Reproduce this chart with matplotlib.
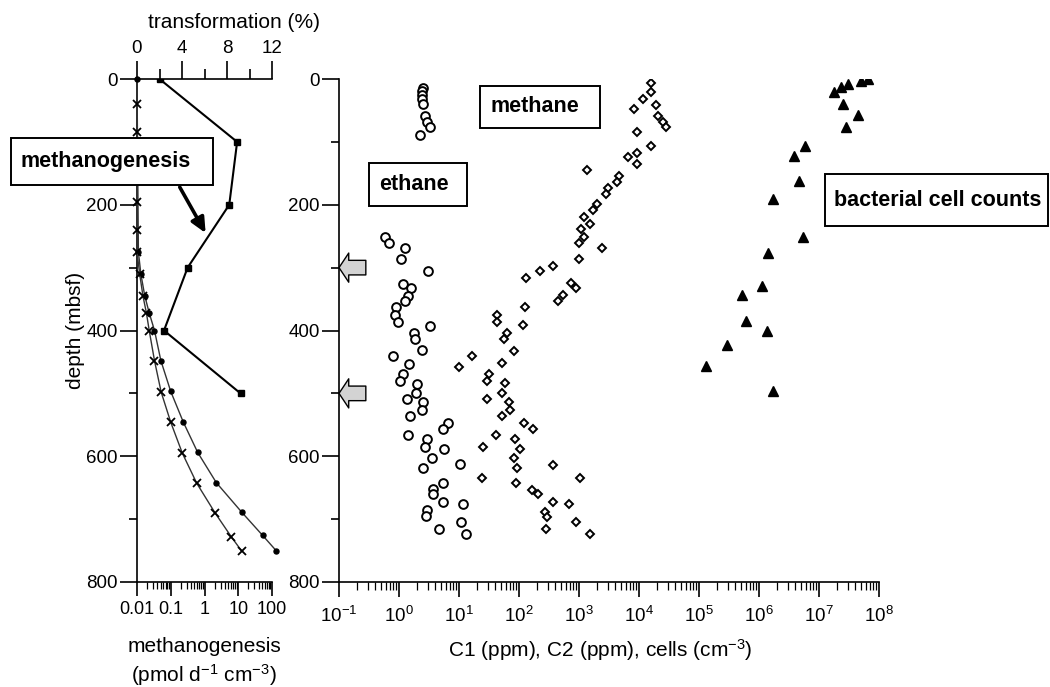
import numpy as np
import matplotlib.pyplot as plt
from matplotlib.patches import Rectangle
from matplotlib.ticker import (MultipleLocator, LogLocator, FixedLocator, FixedFormatter,
                               NullFormatter, FuncFormatter)

plt.rcParams['font.family'] = ['Liberation Sans', 'DejaVu Sans']
plt.rcParams['mathtext.fontset'] = 'custom'
plt.rcParams['mathtext.rm'] = 'Liberation Sans'
plt.rcParams['mathtext.default'] = 'regular'

# ---- left panel data ----
# transformation (%) vs depth
trans_depth = [0, 100, 200, 300, 400, 500]
trans_pct = [2.0, 8.9, 8.2, 4.5, 2.4, 9.2]

# methanogenesis rates (pmol/d/cm3), two model curves
meth1_depth = [0, 275, 310, 345, 372, 400, 448, 497, 546, 594, 642, 689, 726, 750]
meth1_rate = [0.01, 0.011, 0.013, 0.017, 0.023, 0.033, 0.051, 0.1, 0.237, 0.63, 2.24, 12.7, 53, 132]
meth2_depth = [40, 85, 195, 240, 275, 310, 345, 372, 400, 448, 498, 546, 595, 643, 690, 728, 751]
meth2_rate = [0.01, 0.01, 0.01, 0.01, 0.01, 0.012, 0.015, 0.019, 0.023, 0.033, 0.052, 0.1, 0.22, 0.59, 2.05, 6.2, 12.7]

# ---- right panel data ----
c2_depth = [15, 19, 25, 32, 39, 59, 68, 76, 89,
            252, 261, 269, 287, 305, 326, 333, 345, 353, 362, 375, 386, 393, 404, 413, 431,
            441, 453, 469, 480, 485, 499, 509, 514, 527, 536, 547, 556, 566, 573, 586, 589,
            602, 613, 619, 642, 652, 660, 673, 676, 686, 695, 705, 715, 724]
c2_ppm = [2.54, 2.45, 2.4, 2.45, 2.5, 2.76, 2.95, 3.3, 2.24,
          0.58, 0.67, 1.27, 1.07, 3.09, 1.18, 1.57, 1.43, 1.26, 0.88, 0.86, 0.95, 3.29, 1.78, 1.85, 2.45,
          0.785, 1.45, 1.15, 1.04, 2.02, 1.92, 1.34, 2.48, 2.42, 1.52, 6.56, 5.47, 1.43, 2.9, 2.71, 5.62,
          3.59, 10.4, 2.48, 5.35, 3.65, 3.73, 5.47, 11.5, 2.96, 2.82, 10.7, 4.7, 12.9]

c1_depth = [7, 21, 32, 42, 47, 59, 68, 77, 85, 106, 117, 124, 135, 145, 154, 164, 174, 183,
            199, 209, 220, 230, 239, 251, 261, 269, 287, 298, 305, 317, 325, 333, 344, 353,
            362, 375, 386, 392, 404, 413, 432, 441, 452, 458, 469, 480, 484, 499, 509, 513,
            526, 536, 547, 556, 566, 573, 586, 589, 602, 614, 619, 634, 634, 642, 653, 660,
            673, 676, 688, 696, 705, 715, 724]
c1_ppm = [15850, 15850, 11800, 19000, 8260, 21000, 25400, 27900, 9370, 16000, 9370, 6630, 9370,
          1375, 4590, 4250, 3080, 2820, 2020, 1730, 1212, 1525, 1067, 1225, 1012, 2445, 1000,
          365, 224, 131, 728, 891, 535, 452, 126, 43, 43, 117, 64, 56, 82.5, 16.3, 51.5, 10.1,
          31.6, 29.6, 58.4, 51.5, 29, 69, 70.8, 52, 121, 173, 41.4, 85.8, 24.8, 104, 83.5, 365,
          91.5, 23.9, 1039, 90, 163, 205, 365, 689, 271, 290, 881, 279, 1525]

cell_depth = [0, 3, 8, 13, 20, 40, 58, 77, 106, 123, 163, 191, 251, 276, 330, 344, 385, 401, 423, 457, 497]
cell_count = [6.6e7, 4.95e7, 3.08e7, 2.33e7, 1.78e7, 2.51e7, 4.52e7, 2.79e7, 5.84e6, 3.78e6, 4.7e6,
              1.73e6, 5.35e6, 1.43e6, 1.11e6, 5.15e5, 6.07e5, 1.34e6, 2.9e5, 1.29e5, 1.69e6]

arrow_depths = [300, 500]

W, H = 1050, 687
fig = plt.figure(figsize=(10.5, 6.87), dpi=100)

ax = fig.add_axes([137 / W, 1 - 582 / H, 135 / W, 503 / H])
ax2 = ax.twiny()
axr = fig.add_axes([339 / W, 1 - 582 / H, 540 / W, 503 / H])

TICK = 13.5
LAB = 15

# left panel
ax.set_xscale('log')
ax.set_xlim(0.01, 100)
ax.set_ylim(800, 0)
ax.plot(meth1_rate, meth1_depth, '-', color='#333333', lw=1, marker='o', ms=3.6,
        mfc='k', mec='k', clip_on=False, zorder=3)
ax.plot(meth2_rate, meth2_depth, '-', color='#333333', lw=1, marker='x', ms=6,
        mew=1.3, mec='k', clip_on=False, zorder=3)
ax.xaxis.set_major_locator(FixedLocator([0.01, 0.1, 1, 10, 100]))
ax.xaxis.set_major_formatter(FixedFormatter(['0.01', '0.1', '1', '10', '100']))
ax.xaxis.set_minor_locator(LogLocator(base=10, subs=np.arange(2, 10), numticks=20))
ax.xaxis.set_minor_formatter(NullFormatter())
ax.yaxis.set_major_locator(MultipleLocator(200))
ax.yaxis.set_minor_locator(MultipleLocator(100))
for s in ['right', 'top']:
    ax.spines[s].set_visible(False)
ax.tick_params(axis='y', which='major', direction='out', length=12, width=1.2, labelsize=TICK, pad=2)
ax.tick_params(axis='y', which='minor', direction='out', length=6, width=1.2, labelleft=False)
ax.tick_params(axis='x', which='major', direction='out', length=10, width=1.2, labelsize=13, pad=4)
ax.tick_params(axis='x', which='minor', direction='out', length=5, width=0.9, labelbottom=False)
ax.set_ylabel('depth (mbsf)', fontsize=LAB, labelpad=1)

ax2.set_xlim(0, 12)
ax2.plot(trans_pct, trans_depth, '-', color='k', lw=1.5, marker='s', ms=4.8, mfc='k', mec='k', zorder=4)
ax2.xaxis.set_major_locator(MultipleLocator(4))
ax2.xaxis.set_minor_locator(MultipleLocator(2))
for s in ['right', 'left', 'bottom']:
    ax2.spines[s].set_visible(False)
ax2.tick_params(axis='x', which='major', direction='out', length=13, width=1.2, labelsize=TICK, pad=3)
ax2.tick_params(axis='x', which='minor', direction='out', length=7, width=1.2, labeltop=False)
ax2.annotate('', xy=(6.1, 245), xytext=(3.8, 172),
             arrowprops=dict(arrowstyle='-|>,head_length=0.6,head_width=0.28', lw=2.6, color='k',
                             shrinkA=0, shrinkB=0, mutation_scale=15))

for a in [ax, ax2]:
    for s in a.spines.values():
        s.set_linewidth(1.2)

# right panel
axr.set_xscale('log')
axr.set_xlim(1e-1, 1e8)
axr.set_ylim(800, 0)
axr.plot(c2_ppm, c2_depth, 'o', ms=6.3, mfc='white', mec='k', mew=1.4, ls='none')
axr.plot(c1_ppm, c1_depth, 'D', ms=3.7, mfc='white', mec='k', mew=1.4, ls='none')
axr.plot(cell_count, cell_depth, '^', ms=6.5, mfc='k', mec='k', ls='none')
axr.xaxis.set_major_locator(LogLocator(base=10, numticks=20))
axr.xaxis.set_major_formatter(FuncFormatter(lambda v, p: '10$^{%d}$' % round(np.log10(v))))
axr.xaxis.set_minor_locator(LogLocator(base=10, subs=np.arange(2, 10), numticks=20))
axr.xaxis.set_minor_formatter(NullFormatter())
axr.yaxis.set_major_locator(MultipleLocator(200))
axr.yaxis.set_minor_locator(MultipleLocator(100))
for s in ['right', 'top']:
    axr.spines[s].set_visible(False)
for s in axr.spines.values():
    s.set_linewidth(1.2)
axr.tick_params(axis='y', which='major', direction='out', length=12, width=1.2, labelsize=TICK, pad=2)
axr.tick_params(axis='y', which='minor', direction='out', length=6, width=1.2, labelleft=False)
axr.tick_params(axis='x', which='major', direction='out', length=11, width=1.2, labelsize=TICK, pad=6)
axr.tick_params(axis='x', which='minor', direction='out', length=6, width=0.9, labelbottom=False)

for d in arrow_depths:
    axr.annotate('', xy=(0.1, d), xytext=(0.28, d), annotation_clip=False,
                 arrowprops=dict(arrowstyle='simple,head_length=7,head_width=21,tail_width=10.5',
                                 fc='#d3d3d3', ec='k', lw=1, shrinkA=0, shrinkB=0, mutation_scale=1))

# axis titles
fig.text(234 / W, 1 - 23 / H, 'transformation (%)', ha='center', va='center', fontsize=LAB)
fig.text(204 / W, 1 - 647 / H, 'methanogenesis', ha='center', va='center', fontsize=LAB)
fig.text(204 / W, 1 - 675 / H, '(pmol d$^{-1}$ cm$^{-3}$)', ha='center', va='center', fontsize=LAB)
fig.text(600 / W, 1 - 650 / H, 'C1 (ppm), C2 (ppm), cells (cm$^{-3}$)', ha='center', va='center',
         fontsize=LAB)


def boxed(x0, y0, x1, y1, txt, tx):
    fig.add_artist(Rectangle((x0 / W, 1 - y1 / H), (x1 - x0) / W, (y1 - y0) / H,
                             transform=fig.transFigure, fc='white', ec='k', lw=1.4, zorder=5))
    fig.text(tx / W, 1 - (y0 + y1) / 2 / H, txt, ha='left', va='center', fontsize=15.5,
             fontweight='bold', zorder=6)


boxed(11, 138, 213, 185, 'methanogenesis', 21)
boxed(369, 163, 467, 206, 'ethane', 379)
boxed(480, 86, 600, 128, 'methane', 491)
boxed(825, 174, 1048, 226, 'bacterial cell counts', 834)

fig.savefig('out.png', dpi=100)
